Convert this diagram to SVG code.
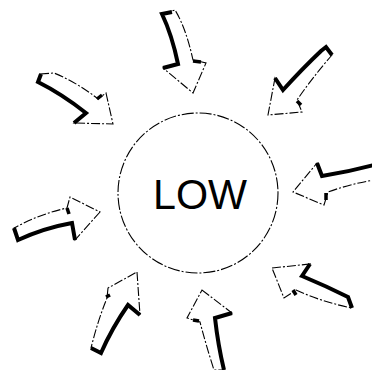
<svg xmlns="http://www.w3.org/2000/svg" width="372" height="370" viewBox="0 0 372 370">
<style>
.outline{fill:#fff;stroke:#000;stroke-width:1.1;stroke-dasharray:9 2 2 2;stroke-linejoin:miter}
.shadow{fill:none;stroke:#000;stroke-width:4;stroke-linejoin:miter;stroke-linecap:butt}
.nub{fill:none;stroke:#000;stroke-width:3.5}
.circle{fill:#fff;stroke:#000;stroke-width:1.1;stroke-dasharray:12 2 2 2}
.label{font-family:"Liberation Sans",Arial,sans-serif;font-size:43px;fill:#000}
</style>
<rect width="372" height="370" fill="#fff"/>
<g id="low">
<circle class="circle" cx="198" cy="193" r="80"/>
<text class="label" x="200" y="209" text-anchor="middle" textLength="94" lengthAdjust="spacingAndGlyphs">LOW</text>
</g>
<g id="connectors">
<g id="arrow-top">
<path class="outline" d="M162,14 L175,10 Q186,28 193,60 L206,63 L193,93 L163,68 L178,64 Q172,35 162,14 Z"/>
<path class="shadow" d="M172,12 L162,14 Q172,35 178,64 L163,68"/>
<path class="nub" d="M193,61 L201,62"/>
</g>
<g id="arrow-upper-left">
<path class="outline" d="M40,74 L54,73 Q78,83 98,99 L106,93 L113,124 L74,123 L86,113 Q62,94 38,82 Z"/>
<path class="shadow" d="M41,74 L38,82 Q62,94 86,113 L74,123"/>
<path class="nub" d="M97,99 L102,95"/>
</g>
<g id="arrow-upper-right">
<path class="outline" d="M321,51 L326,47 L332,55 Q312,78 297,100 L302,112 L268,115 L275,78 L283,90 Q303,68 321,51 Z"/>
<path class="shadow" d="M275,78 L283,90 Q303,68 321,51 L326,47 L332,55"/>
<path class="nub" d="M297,101 L301,105"/>
</g>
<g id="arrow-right">
<path class="outline" d="M317,163 L322,176 Q348,172 374,165 L374,180 Q350,184 328,192 L324,205 L293,192 Z"/>
<path class="shadow" d="M317,163 L322,176 Q348,172 374,165"/>
<path class="nub" d="M326,193 L326,200"/>
</g>
<g id="arrow-lower-right">
<path class="outline" d="M272,268 L310,264 L302,276 Q326,286 348,297 L352,308 Q322,302 296,290 L284,298 Z"/>
<path class="shadow" d="M310,264 L302,276 Q326,286 348,297 L352,308"/>
<path class="nub" d="M293,290 L296,295"/>
</g>
<g id="arrow-bottom">
<path class="outline" d="M202,290 L232,313 L215,318 Q218,345 224,370 L214,370 Q206,345 200,322 L187,318 Z"/>
<path class="shadow" d="M232,313 L215,318 Q218,345 224,370"/>
<path class="nub" d="M193,320 L199,321"/>
</g>
<g id="arrow-lower-left">
<path class="outline" d="M137,272 L140,315 L128,305 Q112,328 101,353 L91,348 Q98,320 107,298 L108,288 Z"/>
<path class="shadow" d="M140,315 L128,305 Q112,328 101,353 L91,348"/>
<path class="nub" d="M106,297 L110,295"/>
</g>
<g id="arrow-left">
<path class="outline" d="M100,212 L75,240 L72,223 Q44,228 18,240 L14,228 Q40,214 67,208 L70,197 Z"/>
<path class="shadow" d="M75,240 L72,223 Q44,228 18,240 L14,228"/>
<path class="nub" d="M67,208 L69,214"/>
</g>
</g>
</svg>
